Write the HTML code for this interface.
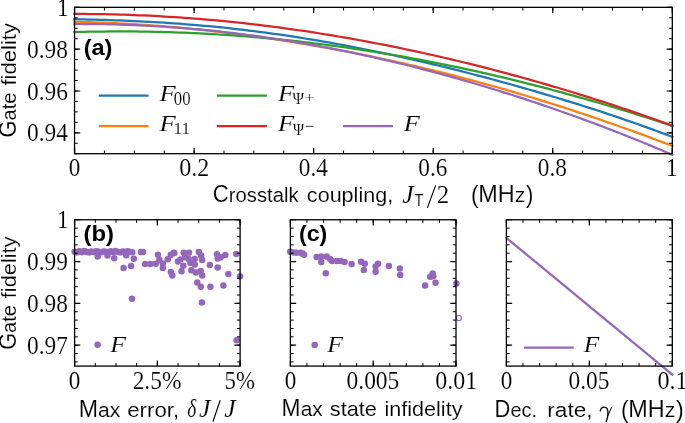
<!DOCTYPE html>
<html><head><meta charset="utf-8"><style>
html,body{margin:0;padding:0;background:#fff;width:685px;height:423px;overflow:hidden}
svg{display:block;will-change:transform}
text{fill:#000;stroke:#fff;stroke-width:0.12px} text[font-weight="bold"]{stroke:none}
</style></head><body>
<svg width="685" height="423" viewBox="0 0 685 423">
<rect width="685" height="423" fill="#fff"/>
<polyline points="74.55,19.18 79.53,19.29 84.51,19.4 89.49,19.52 94.47,19.65 99.46,19.79 104.44,19.94 109.42,20.11 114.4,20.28 119.38,20.46 124.36,20.66 129.34,20.87 134.32,21.09 139.31,21.33 144.29,21.58 149.27,21.84 154.25,22.12 159.23,22.41 164.21,22.72 169.19,23.05 174.18,23.39 179.16,23.74 184.14,24.12 189.12,24.51 194.1,24.91 199.08,25.34 204.06,25.78 209.04,26.24 214.02,26.71 219.01,27.2 223.99,27.71 228.97,28.24 233.95,28.78 238.93,29.35 243.91,29.93 248.89,30.52 253.88,31.14 258.86,31.77 263.84,32.42 268.82,33.09 273.8,33.77 278.78,34.48 283.76,35.2 288.74,35.94 293.72,36.69 298.71,37.46 303.69,38.25 308.67,39.06 313.65,39.88 318.63,40.72 323.61,41.58 328.59,42.45 333.58,43.34 338.56,44.24 343.54,45.16 348.52,46.1 353.5,47.05 358.48,48.02 363.46,49.01 368.44,50.01 373.43,51.02 378.41,52.05 383.39,53.09 388.37,54.15 393.35,55.23 398.33,56.31 403.31,57.41 408.29,58.53 413.27,59.66 418.26,60.8 423.24,61.96 428.22,63.13 433.2,64.32 438.18,65.51 443.16,66.72 448.14,67.95 453.12,69.18 458.11,70.43 463.09,71.69 468.07,72.97 473.05,74.25 478.03,75.55 483.01,76.87 487.99,78.19 492.97,79.53 497.96,80.88 502.94,82.24 507.92,83.61 512.9,85 517.88,86.4 522.86,87.81 527.84,89.23 532.82,90.67 537.81,92.12 542.79,93.58 547.77,95.05 552.75,96.54 557.73,98.04 562.71,99.56 567.69,101.09 572.67,102.63 577.66,104.18 582.64,105.75 587.62,107.34 592.6,108.94 597.58,110.55 602.56,112.18 607.54,113.83 612.52,115.49 617.51,117.17 622.49,118.87 627.47,120.58 632.45,122.31 637.43,124.06 642.41,125.83 647.39,127.62 652.38,129.43 657.36,131.26 662.34,133.11 667.32,134.98 672.3,136.88" fill="none" stroke="#1f77b4" stroke-width="2.25" stroke-linecap="square" stroke-linejoin="round"/>
<polyline points="74.55,21.88 79.53,21.97 84.51,22.08 89.49,22.21 94.47,22.36 99.46,22.53 104.44,22.71 109.42,22.92 114.4,23.15 119.38,23.39 124.36,23.65 129.34,23.94 134.32,24.23 139.31,24.55 144.29,24.88 149.27,25.23 154.25,25.6 159.23,25.99 164.21,26.39 169.19,26.81 174.18,27.24 179.16,27.69 184.14,28.16 189.12,28.64 194.1,29.13 199.08,29.65 204.06,30.18 209.04,30.72 214.02,31.28 219.01,31.85 223.99,32.44 228.97,33.05 233.95,33.67 238.93,34.3 243.91,34.95 248.89,35.61 253.88,36.29 258.86,36.98 263.84,37.69 268.82,38.41 273.8,39.15 278.78,39.9 283.76,40.67 288.74,41.45 293.72,42.24 298.71,43.05 303.69,43.88 308.67,44.72 313.65,45.57 318.63,46.44 323.61,47.32 328.59,48.22 333.58,49.13 338.56,50.05 343.54,50.99 348.52,51.95 353.5,52.92 358.48,53.9 363.46,54.9 368.44,55.91 373.43,56.94 378.41,57.98 383.39,59.04 388.37,60.11 393.35,61.2 398.33,62.3 403.31,63.42 408.29,64.55 413.27,65.7 418.26,66.86 423.24,68.04 428.22,69.23 433.2,70.44 438.18,71.66 443.16,72.9 448.14,74.16 453.12,75.42 458.11,76.71 463.09,78.01 468.07,79.32 473.05,80.65 478.03,81.99 483.01,83.35 487.99,84.73 492.97,86.12 497.96,87.52 502.94,88.94 507.92,90.38 512.9,91.83 517.88,93.3 522.86,94.78 527.84,96.27 532.82,97.79 537.81,99.31 542.79,100.85 547.77,102.41 552.75,103.98 557.73,105.57 562.71,107.17 567.69,108.78 572.67,110.41 577.66,112.06 582.64,113.71 587.62,115.39 592.6,117.07 597.58,118.77 602.56,120.49 607.54,122.22 612.52,123.96 617.51,125.71 622.49,127.48 627.47,129.26 632.45,131.06 637.43,132.86 642.41,134.68 647.39,136.52 652.38,138.36 657.36,140.21 662.34,142.08 667.32,143.96 672.3,145.85" fill="none" stroke="#ff7f0e" stroke-width="2.25" stroke-linecap="square" stroke-linejoin="round"/>
<polyline points="74.55,32.11 79.53,31.97 84.51,31.85 89.49,31.74 94.47,31.65 99.46,31.58 104.44,31.52 109.42,31.47 114.4,31.44 119.38,31.43 124.36,31.43 129.34,31.45 134.32,31.49 139.31,31.54 144.29,31.6 149.27,31.69 154.25,31.78 159.23,31.9 164.21,32.03 169.19,32.17 174.18,32.33 179.16,32.51 184.14,32.7 189.12,32.91 194.1,33.14 199.08,33.38 204.06,33.63 209.04,33.9 214.02,34.19 219.01,34.5 223.99,34.81 228.97,35.15 233.95,35.5 238.93,35.87 243.91,36.25 248.89,36.65 253.88,37.06 258.86,37.49 263.84,37.94 268.82,38.4 273.8,38.87 278.78,39.37 283.76,39.88 288.74,40.4 293.72,40.94 298.71,41.49 303.69,42.06 308.67,42.65 313.65,43.25 318.63,43.87 323.61,44.5 328.59,45.15 333.58,45.82 338.56,46.5 343.54,47.19 348.52,47.9 353.5,48.63 358.48,49.37 363.46,50.13 368.44,50.9 373.43,51.69 378.41,52.49 383.39,53.31 388.37,54.14 393.35,54.99 398.33,55.85 403.31,56.73 408.29,57.63 413.27,58.54 418.26,59.46 423.24,60.4 428.22,61.35 433.2,62.32 438.18,63.31 443.16,64.31 448.14,65.32 453.12,66.35 458.11,67.4 463.09,68.46 468.07,69.53 473.05,70.62 478.03,71.72 483.01,72.84 487.99,73.97 492.97,75.12 497.96,76.28 502.94,77.46 507.92,78.65 512.9,79.85 517.88,81.07 522.86,82.31 527.84,83.56 532.82,84.82 537.81,86.1 542.79,87.39 547.77,88.7 552.75,90.02 557.73,91.35 562.71,92.7 567.69,94.06 572.67,95.44 577.66,96.83 582.64,98.23 587.62,99.65 592.6,101.08 597.58,102.53 602.56,103.99 607.54,105.46 612.52,106.95 617.51,108.45 622.49,109.97 627.47,111.49 632.45,113.04 637.43,114.59 642.41,116.16 647.39,117.74 652.38,119.34 657.36,120.95 662.34,122.57 667.32,124.21 672.3,125.86" fill="none" stroke="#2ca02c" stroke-width="2.25" stroke-linecap="square" stroke-linejoin="round"/>
<polyline points="74.55,13.97 79.53,13.97 84.51,13.99 89.49,14.02 94.47,14.07 99.46,14.14 104.44,14.22 109.42,14.32 114.4,14.44 119.38,14.57 124.36,14.72 129.34,14.89 134.32,15.07 139.31,15.27 144.29,15.48 149.27,15.72 154.25,15.96 159.23,16.23 164.21,16.51 169.19,16.81 174.18,17.12 179.16,17.46 184.14,17.8 189.12,18.17 194.1,18.55 199.08,18.94 204.06,19.36 209.04,19.78 214.02,20.23 219.01,20.69 223.99,21.17 228.97,21.66 233.95,22.17 238.93,22.7 243.91,23.24 248.89,23.8 253.88,24.37 258.86,24.96 263.84,25.56 268.82,26.18 273.8,26.82 278.78,27.47 283.76,28.14 288.74,28.82 293.72,29.52 298.71,30.24 303.69,30.97 308.67,31.71 313.65,32.47 318.63,33.25 323.61,34.04 328.59,34.85 333.58,35.67 338.56,36.51 343.54,37.36 348.52,38.23 353.5,39.11 358.48,40 363.46,40.92 368.44,41.84 373.43,42.79 378.41,43.74 383.39,44.71 388.37,45.7 393.35,46.7 398.33,47.71 403.31,48.74 408.29,49.79 413.27,50.85 418.26,51.92 423.24,53.01 428.22,54.11 433.2,55.23 438.18,56.36 443.16,57.51 448.14,58.67 453.12,59.84 458.11,61.03 463.09,62.23 468.07,63.45 473.05,64.68 478.03,65.92 483.01,67.18 487.99,68.46 492.97,69.75 497.96,71.05 502.94,72.36 507.92,73.69 512.9,75.04 517.88,76.4 522.86,77.77 527.84,79.16 532.82,80.56 537.81,81.97 542.79,83.4 547.77,84.85 552.75,86.3 557.73,87.77 562.71,89.26 567.69,90.76 572.67,92.28 577.66,93.8 582.64,95.35 587.62,96.9 592.6,98.48 597.58,100.06 602.56,101.66 607.54,103.28 612.52,104.91 617.51,106.55 622.49,108.21 627.47,109.89 632.45,111.57 637.43,113.28 642.41,115 647.39,116.73 652.38,118.48 657.36,120.24 662.34,122.02 667.32,123.82 672.3,125.63" fill="none" stroke="#d62728" stroke-width="2.25" stroke-linecap="square" stroke-linejoin="round"/>
<polyline points="74.55,24.01 79.53,24 84.51,24.01 89.49,24.04 94.47,24.09 99.46,24.15 104.44,24.23 109.42,24.34 114.4,24.46 119.38,24.6 124.36,24.76 129.34,24.94 134.32,25.14 139.31,25.35 144.29,25.59 149.27,25.85 154.25,26.12 159.23,26.42 164.21,26.73 169.19,27.06 174.18,27.42 179.16,27.79 184.14,28.18 189.12,28.59 194.1,29.02 199.08,29.48 204.06,29.95 209.04,30.44 214.02,30.94 219.01,31.47 223.99,32.02 228.97,32.59 233.95,33.17 238.93,33.78 243.91,34.41 248.89,35.05 253.88,35.71 258.86,36.4 263.84,37.1 268.82,37.82 273.8,38.56 278.78,39.32 283.76,40.1 288.74,40.89 293.72,41.71 298.71,42.54 303.69,43.4 308.67,44.27 313.65,45.16 318.63,46.07 323.61,47 328.59,47.94 333.58,48.9 338.56,49.89 343.54,50.89 348.52,51.9 353.5,52.94 358.48,53.99 363.46,55.07 368.44,56.16 373.43,57.26 378.41,58.39 383.39,59.53 388.37,60.69 393.35,61.87 398.33,63.06 403.31,64.27 408.29,65.5 413.27,66.75 418.26,68.01 423.24,69.3 428.22,70.59 433.2,71.91 438.18,73.24 443.16,74.59 448.14,75.95 453.12,77.34 458.11,78.73 463.09,80.15 468.07,81.58 473.05,83.03 478.03,84.5 483.01,85.98 487.99,87.48 492.97,88.99 497.96,90.52 502.94,92.07 507.92,93.64 512.9,95.22 517.88,96.82 522.86,98.43 527.84,100.06 532.82,101.71 537.81,103.38 542.79,105.06 547.77,106.75 552.75,108.47 557.73,110.2 562.71,111.95 567.69,113.71 572.67,115.5 577.66,117.29 582.64,119.11 587.62,120.94 592.6,122.79 597.58,124.66 602.56,126.55 607.54,128.45 612.52,130.37 617.51,132.31 622.49,134.27 627.47,136.24 632.45,138.23 637.43,140.24 642.41,142.27 647.39,144.32 652.38,146.39 657.36,148.48 662.34,150.58 667.32,152.71 672.3,154.85" fill="none" stroke="#9467bd" stroke-width="2.25" stroke-linecap="square" stroke-linejoin="round"/>
<line x1="99.9" y1="95.5" x2="147.4" y2="95.5" stroke="#1f77b4" stroke-width="2.25" stroke-linecap="square"/>
<line x1="99.9" y1="126" x2="147.4" y2="126" stroke="#ff7f0e" stroke-width="2.25" stroke-linecap="square"/>
<line x1="218" y1="95.5" x2="265.8" y2="95.5" stroke="#2ca02c" stroke-width="2.25" stroke-linecap="square"/>
<line x1="218" y1="126" x2="265.8" y2="126" stroke="#d62728" stroke-width="2.25" stroke-linecap="square"/>
<line x1="344.1" y1="126" x2="391.9" y2="126" stroke="#9467bd" stroke-width="2.25" stroke-linecap="square"/>
<circle cx="74.66" cy="251.7" r="3.25" fill="#9467bd"/>
<circle cx="77.06" cy="252.4" r="3.25" fill="#9467bd"/>
<circle cx="79.46" cy="251.3" r="3.25" fill="#9467bd"/>
<circle cx="81.86" cy="252.2" r="3.25" fill="#9467bd"/>
<circle cx="84.26" cy="251.1" r="3.25" fill="#9467bd"/>
<circle cx="86.66" cy="251.9" r="3.25" fill="#9467bd"/>
<circle cx="89.06" cy="252.5" r="3.25" fill="#9467bd"/>
<circle cx="91.46" cy="251.4" r="3.25" fill="#9467bd"/>
<circle cx="93.86" cy="252.1" r="3.25" fill="#9467bd"/>
<circle cx="96.26" cy="251.2" r="3.25" fill="#9467bd"/>
<circle cx="98.66" cy="251.8" r="3.25" fill="#9467bd"/>
<circle cx="101.06" cy="252.3" r="3.25" fill="#9467bd"/>
<circle cx="103.46" cy="251.5" r="3.25" fill="#9467bd"/>
<circle cx="105.86" cy="251.7" r="3.25" fill="#9467bd"/>
<circle cx="108.26" cy="252.4" r="3.25" fill="#9467bd"/>
<circle cx="110.66" cy="251.3" r="3.25" fill="#9467bd"/>
<circle cx="113.06" cy="252.2" r="3.25" fill="#9467bd"/>
<circle cx="115.46" cy="251.1" r="3.25" fill="#9467bd"/>
<circle cx="117.86" cy="251.9" r="3.25" fill="#9467bd"/>
<circle cx="120.26" cy="252.5" r="3.25" fill="#9467bd"/>
<circle cx="122.66" cy="251.4" r="3.25" fill="#9467bd"/>
<circle cx="125.06" cy="252.1" r="3.25" fill="#9467bd"/>
<circle cx="127.46" cy="251.2" r="3.25" fill="#9467bd"/>
<circle cx="129.86" cy="251.8" r="3.25" fill="#9467bd"/>
<circle cx="132.26" cy="252.3" r="3.25" fill="#9467bd"/>
<circle cx="97.7" cy="256.5" r="3.25" fill="#9467bd"/>
<circle cx="107.5" cy="255.5" r="3.25" fill="#9467bd"/>
<circle cx="114.2" cy="258.2" r="3.25" fill="#9467bd"/>
<circle cx="126.2" cy="255.3" r="3.25" fill="#9467bd"/>
<circle cx="133.8" cy="258.8" r="3.25" fill="#9467bd"/>
<circle cx="140.9" cy="252" r="3.25" fill="#9467bd"/>
<circle cx="143" cy="252" r="3.25" fill="#9467bd"/>
<circle cx="145.1" cy="264.1" r="3.25" fill="#9467bd"/>
<circle cx="150.4" cy="264.1" r="3.25" fill="#9467bd"/>
<circle cx="155.7" cy="263.8" r="3.25" fill="#9467bd"/>
<circle cx="157.9" cy="254.7" r="3.25" fill="#9467bd"/>
<circle cx="159.4" cy="260" r="3.25" fill="#9467bd"/>
<circle cx="162.8" cy="263.4" r="3.25" fill="#9467bd"/>
<circle cx="162.8" cy="267.9" r="3.25" fill="#9467bd"/>
<circle cx="167.8" cy="259.2" r="3.25" fill="#9467bd"/>
<circle cx="170.8" cy="254.7" r="3.25" fill="#9467bd"/>
<circle cx="173.8" cy="252.8" r="3.25" fill="#9467bd"/>
<circle cx="170.8" cy="272.1" r="3.25" fill="#9467bd"/>
<circle cx="172.3" cy="275.5" r="3.25" fill="#9467bd"/>
<circle cx="174.3" cy="253.2" r="3.25" fill="#9467bd"/>
<circle cx="178" cy="261.5" r="3.25" fill="#9467bd"/>
<circle cx="183.7" cy="252.8" r="3.25" fill="#9467bd"/>
<circle cx="189" cy="252.8" r="3.25" fill="#9467bd"/>
<circle cx="184.9" cy="257.3" r="3.25" fill="#9467bd"/>
<circle cx="180.5" cy="259.5" r="3.25" fill="#9467bd"/>
<circle cx="190.5" cy="263" r="3.25" fill="#9467bd"/>
<circle cx="183.3" cy="265.7" r="3.25" fill="#9467bd"/>
<circle cx="181.5" cy="271.3" r="3.25" fill="#9467bd"/>
<circle cx="188.6" cy="258.9" r="3.25" fill="#9467bd"/>
<circle cx="194.7" cy="258.9" r="3.25" fill="#9467bd"/>
<circle cx="194.7" cy="264.5" r="3.25" fill="#9467bd"/>
<circle cx="191.3" cy="270.2" r="3.25" fill="#9467bd"/>
<circle cx="195.8" cy="272.5" r="3.25" fill="#9467bd"/>
<circle cx="200.7" cy="271" r="3.25" fill="#9467bd"/>
<circle cx="202.2" cy="275.5" r="3.25" fill="#9467bd"/>
<circle cx="198.8" cy="252" r="3.25" fill="#9467bd"/>
<circle cx="201.1" cy="255.5" r="3.25" fill="#9467bd"/>
<circle cx="202.2" cy="260" r="3.25" fill="#9467bd"/>
<circle cx="209.8" cy="264.9" r="3.25" fill="#9467bd"/>
<circle cx="217" cy="254.3" r="3.25" fill="#9467bd"/>
<circle cx="217.7" cy="258.5" r="3.25" fill="#9467bd"/>
<circle cx="220.7" cy="257.3" r="3.25" fill="#9467bd"/>
<circle cx="225.3" cy="255.1" r="3.25" fill="#9467bd"/>
<circle cx="236.2" cy="253.9" r="3.25" fill="#9467bd"/>
<circle cx="217.7" cy="267.5" r="3.25" fill="#9467bd"/>
<circle cx="228.3" cy="274.1" r="3.25" fill="#9467bd"/>
<circle cx="240" cy="276.2" r="3.25" fill="#9467bd"/>
<circle cx="197.3" cy="282.6" r="3.25" fill="#9467bd"/>
<circle cx="200.8" cy="286.7" r="3.25" fill="#9467bd"/>
<circle cx="210.4" cy="286.7" r="3.25" fill="#9467bd"/>
<circle cx="223.4" cy="285.6" r="3.25" fill="#9467bd"/>
<circle cx="201.9" cy="302.5" r="3.25" fill="#9467bd"/>
<circle cx="131.9" cy="298.7" r="3.25" fill="#9467bd"/>
<circle cx="123.6" cy="268.1" r="3.25" fill="#9467bd"/>
<circle cx="131" cy="265.9" r="3.25" fill="#9467bd"/>
<circle cx="236.6" cy="340.2" r="3.25" fill="#9467bd"/>
<circle cx="290.2" cy="251.7" r="3.25" fill="#9467bd"/>
<circle cx="293.6" cy="252.4" r="3.25" fill="#9467bd"/>
<circle cx="296.6" cy="252.8" r="3.25" fill="#9467bd"/>
<circle cx="300.7" cy="252.8" r="3.25" fill="#9467bd"/>
<circle cx="302.6" cy="253.6" r="3.25" fill="#9467bd"/>
<circle cx="304.1" cy="254.7" r="3.25" fill="#9467bd"/>
<circle cx="316.6" cy="257" r="3.25" fill="#9467bd"/>
<circle cx="321.2" cy="256.6" r="3.25" fill="#9467bd"/>
<circle cx="321.3" cy="262.1" r="3.25" fill="#9467bd"/>
<circle cx="326.7" cy="256.6" r="3.25" fill="#9467bd"/>
<circle cx="330.1" cy="258.9" r="3.25" fill="#9467bd"/>
<circle cx="332" cy="261.1" r="3.25" fill="#9467bd"/>
<circle cx="336.9" cy="261.1" r="3.25" fill="#9467bd"/>
<circle cx="340.7" cy="261.1" r="3.25" fill="#9467bd"/>
<circle cx="344.5" cy="261.9" r="3.25" fill="#9467bd"/>
<circle cx="351.6" cy="264.1" r="3.25" fill="#9467bd"/>
<circle cx="325.8" cy="273.2" r="3.25" fill="#9467bd"/>
<circle cx="361" cy="261.8" r="3.25" fill="#9467bd"/>
<circle cx="364.8" cy="263.7" r="3.25" fill="#9467bd"/>
<circle cx="363.8" cy="269.9" r="3.25" fill="#9467bd"/>
<circle cx="375.6" cy="266.6" r="3.25" fill="#9467bd"/>
<circle cx="378" cy="263.7" r="3.25" fill="#9467bd"/>
<circle cx="375.6" cy="271.8" r="3.25" fill="#9467bd"/>
<circle cx="388.9" cy="266.1" r="3.25" fill="#9467bd"/>
<circle cx="399.8" cy="268.4" r="3.25" fill="#9467bd"/>
<circle cx="400.2" cy="275.1" r="3.25" fill="#9467bd"/>
<circle cx="432.7" cy="273.4" r="3.25" fill="#9467bd"/>
<circle cx="430.3" cy="276.7" r="3.25" fill="#9467bd"/>
<circle cx="433.2" cy="276.2" r="3.25" fill="#9467bd"/>
<circle cx="435.5" cy="282.8" r="3.25" fill="#9467bd"/>
<circle cx="425.1" cy="285.5" r="3.25" fill="#9467bd"/>
<circle cx="456.4" cy="283.6" r="3.25" fill="#9467bd"/>
<circle cx="458.8" cy="318.1" r="2.6" fill="none" stroke="#9467bd" stroke-width="1.2"/>
<circle cx="97.6" cy="344.8" r="3.25" fill="#9467bd"/>
<circle cx="314.7" cy="344.9" r="3.25" fill="#9467bd"/>
<line x1="506.4" y1="237.9" x2="672.3" y2="374.6" stroke="#9467bd" stroke-width="2.25" stroke-linecap="square"/>
<line x1="525.1" y1="347.5" x2="572.6" y2="347.5" stroke="#9467bd" stroke-width="2.25" stroke-linecap="square"/>
<rect x="74.55" y="7.35" width="597.75" height="146.35" fill="none" stroke="#000" stroke-width="1.3"/>
<rect x="74.6" y="219.75" width="165.5" height="146.35" fill="none" stroke="#000" stroke-width="1.3"/>
<rect x="290.4" y="219.75" width="165.6" height="146.35" fill="none" stroke="#000" stroke-width="1.3"/>
<rect x="506.4" y="219.75" width="165.9" height="146.35" fill="none" stroke="#000" stroke-width="1.3"/>
<path d="M74.55 153.7V148M74.55 7.35V13.05M194.1 153.7V148M194.1 7.35V13.05M313.65 153.7V148M313.65 7.35V13.05M433.2 153.7V148M433.2 7.35V13.05M552.75 153.7V148M552.75 7.35V13.05M672.3 153.7V148M672.3 7.35V13.05M74.55 132.79H80.25M672.3 132.79H666.6M74.55 90.98H80.25M672.3 90.98H666.6M74.55 49.16H80.25M672.3 49.16H666.6M74.55 7.35H80.25M672.3 7.35H666.6" stroke="#000" stroke-width="1.2" fill="none"/>
<path d="M74.55 153.7V150.5M74.55 7.35V10.55M104.44 153.7V150.5M104.44 7.35V10.55M134.32 153.7V150.5M134.32 7.35V10.55M164.21 153.7V150.5M164.21 7.35V10.55M194.1 153.7V150.5M194.1 7.35V10.55M223.99 153.7V150.5M223.99 7.35V10.55M253.88 153.7V150.5M253.88 7.35V10.55M283.76 153.7V150.5M283.76 7.35V10.55M313.65 153.7V150.5M313.65 7.35V10.55M343.54 153.7V150.5M343.54 7.35V10.55M373.43 153.7V150.5M373.43 7.35V10.55M403.31 153.7V150.5M403.31 7.35V10.55M433.2 153.7V150.5M433.2 7.35V10.55M463.09 153.7V150.5M463.09 7.35V10.55M492.98 153.7V150.5M492.98 7.35V10.55M522.86 153.7V150.5M522.86 7.35V10.55M552.75 153.7V150.5M552.75 7.35V10.55M582.64 153.7V150.5M582.64 7.35V10.55M612.52 153.7V150.5M612.52 7.35V10.55M642.41 153.7V150.5M642.41 7.35V10.55M672.3 153.7V150.5M672.3 7.35V10.55M74.55 153.7H77.75M672.3 153.7H669.1M74.55 143.25H77.75M672.3 143.25H669.1M74.55 132.79H77.75M672.3 132.79H669.1M74.55 122.34H77.75M672.3 122.34H669.1M74.55 111.89H77.75M672.3 111.89H669.1M74.55 101.43H77.75M672.3 101.43H669.1M74.55 90.98H77.75M672.3 90.98H669.1M74.55 80.52H77.75M672.3 80.52H669.1M74.55 70.07H77.75M672.3 70.07H669.1M74.55 59.62H77.75M672.3 59.62H669.1M74.55 49.16H77.75M672.3 49.16H669.1M74.55 38.71H77.75M672.3 38.71H669.1M74.55 28.26H77.75M672.3 28.26H669.1M74.55 17.8H77.75M672.3 17.8H669.1M74.55 7.35H77.75M672.3 7.35H669.1" stroke="#000" stroke-width="1.0" fill="none"/>
<path d="M74.6 366.1V360.4M74.6 219.75V225.45M157.35 366.1V360.4M157.35 219.75V225.45M240.1 366.1V360.4M240.1 219.75V225.45M74.6 345.19H80.3M240.1 345.19H234.4M74.6 303.38H80.3M240.1 303.38H234.4M74.6 261.56H80.3M240.1 261.56H234.4M74.6 219.75H80.3M240.1 219.75H234.4" stroke="#000" stroke-width="1.2" fill="none"/>
<path d="M74.6 366.1V362.9M74.6 219.75V222.95M95.29 366.1V362.9M95.29 219.75V222.95M115.97 366.1V362.9M115.97 219.75V222.95M136.66 366.1V362.9M136.66 219.75V222.95M157.35 366.1V362.9M157.35 219.75V222.95M178.04 366.1V362.9M178.04 219.75V222.95M198.73 366.1V362.9M198.73 219.75V222.95M219.41 366.1V362.9M219.41 219.75V222.95M240.1 366.1V362.9M240.1 219.75V222.95M74.6 361.92H77.8M240.1 361.92H236.9M74.6 353.56H77.8M240.1 353.56H236.9M74.6 345.19H77.8M240.1 345.19H236.9M74.6 336.83H77.8M240.1 336.83H236.9M74.6 328.47H77.8M240.1 328.47H236.9M74.6 320.1H77.8M240.1 320.1H236.9M74.6 311.74H77.8M240.1 311.74H236.9M74.6 303.38H77.8M240.1 303.38H236.9M74.6 295.02H77.8M240.1 295.02H236.9M74.6 286.65H77.8M240.1 286.65H236.9M74.6 278.29H77.8M240.1 278.29H236.9M74.6 269.93H77.8M240.1 269.93H236.9M74.6 261.56H77.8M240.1 261.56H236.9M74.6 253.2H77.8M240.1 253.2H236.9M74.6 244.84H77.8M240.1 244.84H236.9M74.6 236.48H77.8M240.1 236.48H236.9M74.6 228.11H77.8M240.1 228.11H236.9M74.6 219.75H77.8M240.1 219.75H236.9" stroke="#000" stroke-width="1.0" fill="none"/>
<path d="M290.4 366.1V360.4M290.4 219.75V225.45M373.2 366.1V360.4M373.2 219.75V225.45M456 366.1V360.4M456 219.75V225.45M290.4 345.19H296.1M456 345.19H450.3M290.4 303.38H296.1M456 303.38H450.3M290.4 261.56H296.1M456 261.56H450.3M290.4 219.75H296.1M456 219.75H450.3" stroke="#000" stroke-width="1.2" fill="none"/>
<path d="M290.4 366.1V362.9M290.4 219.75V222.95M306.96 366.1V362.9M306.96 219.75V222.95M323.52 366.1V362.9M323.52 219.75V222.95M340.08 366.1V362.9M340.08 219.75V222.95M356.64 366.1V362.9M356.64 219.75V222.95M373.2 366.1V362.9M373.2 219.75V222.95M389.76 366.1V362.9M389.76 219.75V222.95M406.32 366.1V362.9M406.32 219.75V222.95M422.88 366.1V362.9M422.88 219.75V222.95M439.44 366.1V362.9M439.44 219.75V222.95M456 366.1V362.9M456 219.75V222.95M290.4 361.92H293.6M456 361.92H452.8M290.4 353.56H293.6M456 353.56H452.8M290.4 345.19H293.6M456 345.19H452.8M290.4 336.83H293.6M456 336.83H452.8M290.4 328.47H293.6M456 328.47H452.8M290.4 320.1H293.6M456 320.1H452.8M290.4 311.74H293.6M456 311.74H452.8M290.4 303.38H293.6M456 303.38H452.8M290.4 295.02H293.6M456 295.02H452.8M290.4 286.65H293.6M456 286.65H452.8M290.4 278.29H293.6M456 278.29H452.8M290.4 269.93H293.6M456 269.93H452.8M290.4 261.56H293.6M456 261.56H452.8M290.4 253.2H293.6M456 253.2H452.8M290.4 244.84H293.6M456 244.84H452.8M290.4 236.48H293.6M456 236.48H452.8M290.4 228.11H293.6M456 228.11H452.8M290.4 219.75H293.6M456 219.75H452.8" stroke="#000" stroke-width="1.0" fill="none"/>
<path d="M506.4 366.1V360.4M506.4 219.75V225.45M589.35 366.1V360.4M589.35 219.75V225.45M672.3 366.1V360.4M672.3 219.75V225.45M506.4 345.19H512.1M672.3 345.19H666.6M506.4 303.38H512.1M672.3 303.38H666.6M506.4 261.56H512.1M672.3 261.56H666.6M506.4 219.75H512.1M672.3 219.75H666.6" stroke="#000" stroke-width="1.2" fill="none"/>
<path d="M506.4 366.1V362.9M506.4 219.75V222.95M522.99 366.1V362.9M522.99 219.75V222.95M539.58 366.1V362.9M539.58 219.75V222.95M556.17 366.1V362.9M556.17 219.75V222.95M572.76 366.1V362.9M572.76 219.75V222.95M589.35 366.1V362.9M589.35 219.75V222.95M605.94 366.1V362.9M605.94 219.75V222.95M622.53 366.1V362.9M622.53 219.75V222.95M639.12 366.1V362.9M639.12 219.75V222.95M655.71 366.1V362.9M655.71 219.75V222.95M672.3 366.1V362.9M672.3 219.75V222.95M506.4 361.92H509.6M672.3 361.92H669.1M506.4 353.56H509.6M672.3 353.56H669.1M506.4 345.19H509.6M672.3 345.19H669.1M506.4 336.83H509.6M672.3 336.83H669.1M506.4 328.47H509.6M672.3 328.47H669.1M506.4 320.1H509.6M672.3 320.1H669.1M506.4 311.74H509.6M672.3 311.74H669.1M506.4 303.38H509.6M672.3 303.38H669.1M506.4 295.02H509.6M672.3 295.02H669.1M506.4 286.65H509.6M672.3 286.65H669.1M506.4 278.29H509.6M672.3 278.29H669.1M506.4 269.93H509.6M672.3 269.93H669.1M506.4 261.56H509.6M672.3 261.56H669.1M506.4 253.2H509.6M672.3 253.2H669.1M506.4 244.84H509.6M672.3 244.84H669.1M506.4 236.48H509.6M672.3 236.48H669.1M506.4 228.11H509.6M672.3 228.11H669.1M506.4 219.75H509.6M672.3 219.75H669.1" stroke="#000" stroke-width="1.0" fill="none"/>
<line x1="427.4" y1="207.9" x2="435.6" y2="185.4" stroke="#000" stroke-width="1.15"/>
<line x1="212.9" y1="421.7" x2="220.2" y2="400.3" stroke="#000" stroke-width="1.15"/>
<path d="M600.2,410.9 C600.8,408.7 602.3,407.1 604.3,407.1 C606.7,407.1 607.9,409.6 608.0,412.6 C608.1,415.6 607.3,418.8 606.3,421.6" fill="none" stroke="#000" stroke-width="1.35" stroke-linecap="round"/>
<path d="M611.7,407.2 L607.9,415.6" fill="none" stroke="#000" stroke-width="1.0" stroke-linecap="round"/>
<text transform="translate(57.09,16.05) scale(0.9556,1)" font-family="Liberation Serif" font-size="24.2">1</text>
<text transform="translate(27.04,57.86) scale(0.9658,1)" font-family="Liberation Serif" font-size="24.2">0.98</text>
<text transform="translate(27.04,99.68) scale(0.9658,1)" font-family="Liberation Serif" font-size="24.2">0.96</text>
<text transform="translate(27.04,141.49) scale(0.9658,1)" font-family="Liberation Serif" font-size="24.2">0.94</text>
<text transform="translate(57.09,228.45) scale(0.9556,1)" font-family="Liberation Serif" font-size="24.2">1</text>
<text transform="translate(27.04,270.26) scale(0.9658,1)" font-family="Liberation Serif" font-size="24.2">0.99</text>
<text transform="translate(27.04,312.08) scale(0.9658,1)" font-family="Liberation Serif" font-size="24.2">0.98</text>
<text transform="translate(27.04,353.89) scale(0.9658,1)" font-family="Liberation Serif" font-size="24.2">0.97</text>
<text transform="translate(68.81,176.2) scale(0.9570,1)" font-family="Liberation Serif" font-size="24.2">0</text>
<text transform="translate(179.18,176.2) scale(0.9946,1)" font-family="Liberation Serif" font-size="24.2">0.2</text>
<text transform="translate(298.77,176.2) scale(0.9603,1)" font-family="Liberation Serif" font-size="24.2">0.4</text>
<text transform="translate(418.32,176.2) scale(0.9603,1)" font-family="Liberation Serif" font-size="24.2">0.6</text>
<text transform="translate(537.87,176.2) scale(0.9603,1)" font-family="Liberation Serif" font-size="24.2">0.8</text>
<text transform="translate(666.09,176.2) scale(0.9556,1)" font-family="Liberation Serif" font-size="24.2">1</text>
<text transform="translate(68.86,388.6) scale(0.9570,1)" font-family="Liberation Serif" font-size="24.2">0</text>
<text transform="translate(132.67,388.6) scale(0.9680,1)" font-family="Liberation Serif" font-size="24.2">2.5%</text>
<text transform="translate(224.58,388.6) scale(0.9404,1)" font-family="Liberation Serif" font-size="24.2">5%</text>
<text transform="translate(284.66,388.6) scale(0.9570,1)" font-family="Liberation Serif" font-size="24.2">0</text>
<text transform="translate(346.56,388.6) scale(0.9688,1)" font-family="Liberation Serif" font-size="24.2">0.005</text>
<text transform="translate(435.21,388.6) scale(0.9900,1)" font-family="Liberation Serif" font-size="24.2">0.01</text>
<text transform="translate(500.66,388.6) scale(0.9570,1)" font-family="Liberation Serif" font-size="24.2">0</text>
<text transform="translate(568.59,388.6) scale(0.9658,1)" font-family="Liberation Serif" font-size="24.2">0.05</text>
<text transform="translate(657.38,388.6) scale(0.9946,1)" font-family="Liberation Serif" font-size="24.2">0.1</text>
<text transform="translate(212.84,202.3) scale(0.9648,1)" font-family="Liberation Sans" font-size="23.0">C<tspan font-size="21.0">rosstalk</tspan></text>
<text transform="translate(306.87,202.3) scale(1.0272,1)" font-family="Liberation Sans" font-size="23.0"><tspan font-size="21.0">coupling,</tspan></text>
<text transform="translate(402.3,202.6) scale(1.0583,1)" font-family="Liberation Serif" font-size="24.2" font-style="italic">J</text>
<text transform="translate(414.6,205.6) scale(0.9000,1)" font-family="Liberation Sans" font-size="16">T</text>
<text transform="translate(436.77,202.6) scale(1.0300,1)" font-family="Liberation Serif" font-size="24.2">2</text>
<text transform="translate(470.92,203.38) scale(0.9833,1.0435)" font-family="Liberation Sans" font-size="23.0">(</text>
<text transform="translate(478.26,202.3) scale(1.0186,1)" font-family="Liberation Sans" font-size="23.0">MH<tspan font-size="21.0">z</tspan></text>
<text transform="translate(526.1,203.38) scale(0.9667,1.0435)" font-family="Liberation Sans" font-size="23.0">)</text>
<text transform="translate(78.68,416.7) scale(1.0077,1)" font-family="Liberation Sans" font-size="23.0">M<tspan font-size="21.0">ax</tspan></text>
<text transform="translate(127.24,416.7) scale(1.0587,1)" font-family="Liberation Sans" font-size="23.0"><tspan font-size="21.0">error,</tspan></text>
<text transform="translate(187.2,416.9) scale(0.8000,1)" font-family="Liberation Serif" font-size="24.2" font-style="italic">δ</text>
<text transform="translate(199.1,416.9) scale(1.0667,1)" font-family="Liberation Serif" font-size="24.2" font-style="italic">J</text>
<text transform="translate(224.2,416.9) scale(1.0583,1)" font-family="Liberation Serif" font-size="24.2" font-style="italic">J</text>
<text transform="translate(281.62,416.4) scale(0.9923,1)" font-family="Liberation Sans" font-size="23.0">M<tspan font-size="21.0">ax</tspan></text>
<text transform="translate(329.76,416.4) scale(1.0364,1)" font-family="Liberation Sans" font-size="23.0"><tspan font-size="21.0">state</tspan></text>
<text transform="translate(384.57,416.4) scale(1.0267,1)" font-family="Liberation Sans" font-size="23.0"><tspan font-size="21.0">infidelity</tspan></text>
<text transform="translate(494.6,416.6) scale(0.9512,1)" font-family="Liberation Sans" font-size="23.0">D<tspan font-size="21.0">ec.</tspan></text>
<text transform="translate(547.32,416.6) scale(1.0769,1)" font-family="Liberation Sans" font-size="23.0"><tspan font-size="21.0">rate,</tspan></text>
<text transform="translate(620.92,417.78) scale(0.9833,1.0435)" font-family="Liberation Sans" font-size="23.0">(</text>
<text transform="translate(628.26,416.7) scale(1.0186,1)" font-family="Liberation Sans" font-size="23.0">MH<tspan font-size="21.0">z</tspan></text>
<text transform="translate(676.1,417.78) scale(1.0167,1.0435)" font-family="Liberation Sans" font-size="23.0">)</text>
<text transform="translate(16.3,137.56) rotate(-90) scale(0.9556,1)" font-family="Liberation Sans" font-size="23.0">G<tspan font-size="21.0">ate</tspan></text>
<text transform="translate(16.3,85.6) rotate(-90) scale(1.0533,1)" font-family="Liberation Sans" font-size="23.0"><tspan font-size="21.0">fidelity</tspan></text>
<text transform="translate(16.1,349.85) rotate(-90) scale(0.9489,1)" font-family="Liberation Sans" font-size="23.0">G<tspan font-size="21.0">ate</tspan></text>
<text transform="translate(16.1,298.2) rotate(-90) scale(1.0383,1)" font-family="Liberation Sans" font-size="23.0"><tspan font-size="21.0">fidelity</tspan></text>
<text transform="translate(83.76,54.8) scale(1.0423,1)" font-family="Liberation Sans" font-size="22.5" font-weight="bold">(a)</text>
<text transform="translate(83.54,240.6) scale(1.0593,1)" font-family="Liberation Sans" font-size="22.5" font-weight="bold">(b)</text>
<text transform="translate(299.07,240.6) scale(1.0269,1)" font-family="Liberation Sans" font-size="22.5" font-weight="bold">(c)</text>
<text transform="translate(159.4,100.6) scale(1.1000,0.9824)" font-family="Liberation Serif" font-size="24.2" font-style="italic">F</text>
<text transform="translate(173.8,104.5) scale(1.0187,1.1000)" font-family="Liberation Serif" font-size="16.5">00</text>
<text transform="translate(159.4,130.6) scale(1.1000,0.9824)" font-family="Liberation Serif" font-size="24.2" font-style="italic">F</text>
<text transform="translate(173.55,134.3) scale(1.0500,1.0636)" font-family="Liberation Serif" font-size="16.5">11</text>
<text transform="translate(278,100.6) scale(1.0867,0.9824)" font-family="Liberation Serif" font-size="24.2" font-style="italic">F</text>
<text transform="translate(292.5,104.1) scale(0.9500,1.0273)" font-family="Liberation Serif" font-size="16.5">Ψ</text>
<text transform="translate(304.19,101.84) scale(1.1125,0.9444)" font-family="Liberation Serif" font-size="16.5">+</text>
<text transform="translate(278,130.6) scale(1.0867,0.9824)" font-family="Liberation Serif" font-size="24.2" font-style="italic">F</text>
<text transform="translate(292.9,134.5) scale(0.9167,1.0364)" font-family="Liberation Serif" font-size="16.5">Ψ</text>
<text transform="translate(305,134.2) scale(1.0000,1.4000)" font-family="Liberation Serif" font-size="16.5">−</text>
<text transform="translate(403.8,130.6) scale(1.0867,0.9824)" font-family="Liberation Serif" font-size="24.2" font-style="italic">F</text>
<text transform="translate(110.2,351.9) scale(1.0667,0.9235)" font-family="Liberation Serif" font-size="24.2" font-style="italic">F</text>
<text transform="translate(327.3,352) scale(1.0600,0.9294)" font-family="Liberation Serif" font-size="24.2" font-style="italic">F</text>
<text transform="translate(583.8,352) scale(1.0533,0.9235)" font-family="Liberation Serif" font-size="24.2" font-style="italic">F</text>
</svg>
</body></html>
